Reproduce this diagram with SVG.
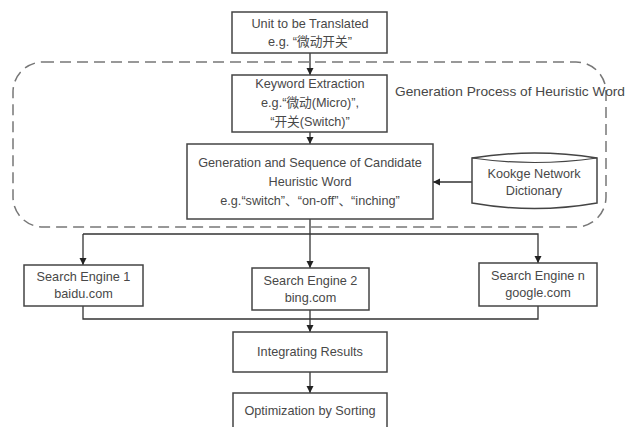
<svg xmlns="http://www.w3.org/2000/svg" width="627" height="427" viewBox="0 0 627 427">
<defs>
<marker id="ah" markerWidth="8" markerHeight="8" refX="7" refY="4" orient="auto" markerUnits="userSpaceOnUse">
<path d="M0,0.5 L7,4 L0,7.5 Z" fill="#222"/>
</marker>
<style>
.box{fill:#fff;stroke:#444;stroke-width:1.5}
.t{font-family:"Liberation Sans","Noto Sans CJK SC",sans-serif;font-size:12.7px;fill:#484848;text-anchor:middle}
.c{fill:none;stroke:#333;stroke-width:1.3}
.dash{fill:none;stroke:#777;stroke-width:1.5;stroke-dasharray:11 6}
</style>
</defs>
<rect width="627" height="427" fill="#fff"/>
<g id="group-heuristic">
<rect class="dash" x="13" y="62" width="593" height="165" rx="30" ry="30"/>
<text x="395" y="96" style="font-family:'Liberation Sans',sans-serif;font-size:13px;fill:#484848" textLength="230" lengthAdjust="spacingAndGlyphs">Generation Process of Heuristic Word</text>
</g>
<g id="connectors">
<line class="c" x1="310" y1="53" x2="310" y2="75" marker-end="url(#ah)"/>
<line class="c" x1="310" y1="132" x2="310" y2="144" marker-end="url(#ah)"/>
<line class="c" x1="472" y1="182" x2="433" y2="182" marker-end="url(#ah)"/>
<line class="c" x1="310" y1="219" x2="310" y2="268" marker-end="url(#ah)"/>
<polyline class="c" points="83,234 538,234 538,263" marker-end="url(#ah)"/>
<line class="c" x1="83" y1="234" x2="83" y2="265" marker-end="url(#ah)"/>
<polyline class="c" points="83,306 83,319 538,319 538,306"/>
<line class="c" x1="310" y1="310" x2="310" y2="319"/>
<line class="c" x1="310" y1="319" x2="310" y2="332" marker-end="url(#ah)"/>
<line class="c" x1="310" y1="372" x2="310" y2="393" marker-end="url(#ah)"/>
</g>
<g id="unit">
<rect class="box" x="232" y="12" width="155" height="41"/>
<text class="t" x="310" y="28">Unit to be Translated</text>
<text class="t" x="310" y="46">e.g. “微动开关”</text>
</g>
<g id="keyword">
<rect class="box" x="232" y="75" width="155" height="57"/>
<text class="t" x="310" y="88">Keyword Extraction</text>
<text class="t" x="310" y="107">e.g.“微动(Micro)”,</text>
<text class="t" x="310" y="126">“开关(Switch)”</text>
</g>
<g id="candidate">
<rect class="box" x="187" y="144" width="246" height="75"/>
<text class="t" x="310" y="167">Generation and Sequence of Candidate</text>
<text class="t" x="310" y="186">Heuristic Word</text>
<text class="t" x="310" y="205">e.g.“switch”、“on-off”、“inching”</text>
</g>
<g id="dictionary">
<path class="box" d="M472,158 Q534.5,148 597,158 L597,203 Q534.5,214 472,203 Z"/>
<path d="M472,158 Q534.5,167 597,158" fill="none" stroke="#444" stroke-width="1.2"/>
<text class="t" x="534" y="178">Kookge Network</text>
<text class="t" x="534" y="195">Dictionary</text>
</g>
<g id="se1">
<rect class="box" x="24" y="265" width="119" height="41"/>
<text class="t" x="83.5" y="281">Search Engine 1</text>
<text class="t" x="83.5" y="298">baidu.com</text>
</g>
<g id="se2">
<rect class="box" x="252" y="268" width="117" height="42"/>
<text class="t" x="310.5" y="285">Search Engine 2</text>
<text class="t" x="310.5" y="302">bing.com</text>
</g>
<g id="sen">
<rect class="box" x="479" y="263" width="118" height="43"/>
<text class="t" x="538" y="280">Search Engine n</text>
<text class="t" x="538" y="297">google.com</text>
</g>
<g id="integrating">
<rect class="box" x="233" y="332" width="154" height="40"/>
<text class="t" x="310" y="356">Integrating Results</text>
</g>
<g id="optimization">
<rect class="box" x="233" y="393" width="154" height="45"/>
<text class="t" x="310" y="415">Optimization by Sorting</text>
</g>
</svg>
